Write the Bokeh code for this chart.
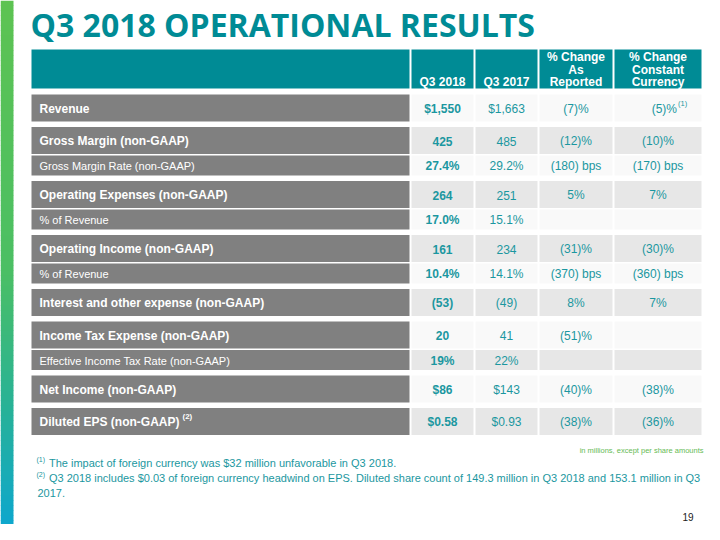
from bokeh.plotting import figure
from bokeh.models import Range1d
from bokeh.core.properties import value
from bokeh.embed import file_html
from bokeh.resources import INLINE

# ---------------- data ----------------
title_text = "Q3 2018 OPERATIONAL RESULTS"
col_headers = [["Q3 2018"], ["Q3 2017"], ["% Change", "As", "Reported"], ["% Change", "Constant", "Currency"]]
row_labels = [
    "Revenue",
    "Gross Margin (non-GAAP)",
    "Gross Margin Rate (non-GAAP)",
    "Operating Expenses (non-GAAP)",
    "% of Revenue",
    "Operating Income (non-GAAP)",
    "% of Revenue",
    "Interest and other expense (non-GAAP)",
    "Income Tax Expense (non-GAAP)",
    "Effective Income Tax Rate (non-GAAP)",
    "Net Income (non-GAAP)",
    "Diluted EPS (non-GAAP)",
]
row_label_notes = ["", "", "", "", "", "", "", "", "", "", "", "(2)"]
row_kind = ["main", "main", "sub", "main", "sub", "main", "sub", "main", "main", "sub", "main", "main"]
q3_2018 = ["$1,550", "425", "27.4%", "264", "17.0%", "161", "10.4%", "(53)", "20", "19%", "$86", "$0.58"]
q3_2017 = ["$1,663", "485", "29.2%", "251", "15.1%", "234", "14.1%", "(49)", "41", "22%", "$143", "$0.93"]
chg_reported = ["(7)%", "(12)%", "(180) bps", "5%", "", "(31)%", "(370) bps", "8%", "(51)%", "", "(40)%", "(38)%"]
chg_constant = ["(5)%", "(10)%", "(170) bps", "7%", "", "(30)%", "(360) bps", "7%", "", "", "(38)%", "(36)%"]
chg_constant_notes = ["(1)", "", "", "", "", "", "", "", "", "", "", ""]
unit_note = "in millions, except per share amounts"
footnote_marks = ["(1)", "(2)"]
footnote_lines = [
    "The impact of foreign currency was $32 million unfavorable in Q3 2018.",
    "Q3 2018 includes $0.03 of foreign currency headwind on EPS. Diluted share count of 149.3 million in Q3 2018 and 153.1 million in Q3",
    "2017.",
]
page_number = "19"

# ---------------- styles / layout ----------------
TEAL = "#008B95"
VAL_COLOR = "#1B97A0"
LABEL_BG = "#808080"
LIGHT_BG = "#F9F9F9"
DARK_BG = "#E7E7E7"
FONT = value("Liberation Sans")

LABEL_X0, LABEL_X1 = 31, 409
COL_X = [(411, 473), (475, 537), (539, 612), (614, 701)]
HEADER_TOP, HEADER_BOT = 49, 88
FIRST_TOP = 94
MAIN_H, SUB_H = 27, 20
GAP_MAIN, GAP_SUB = 5.5, 1.5

W, H = 704, 524
p = figure(width=W, height=H, output_backend="svg", toolbar_location=None,
           x_range=Range1d(0, W), y_range=Range1d(H, 0))
p.axis.visible = False
p.grid.visible = False
p.outline_line_color = None
p.min_border = 0
p.background_fill_color = "white"
p.border_fill_color = "white"

# left gradient bar
stops = [(0.0, (93, 195, 82)), (0.5, (75, 191, 100)), (0.75, (40, 178, 150)), (1.0, (10, 165, 212))]
def grad(t):
    for (t0, c0), (t1, c1) in zip(stops[:-1], stops[1:]):
        if t0 <= t <= t1:
            f = (t - t0) / (t1 - t0)
            return "#%02x%02x%02x" % tuple(int(round(a + (b - a) * f)) for a, b in zip(c0, c1))
    return "#%02x%02x%02x" % stops[-1][1]
n = 108
ys = [540 * i / n for i in range(n + 1)]
p.quad(left=[0] * n, right=[13] * n, top=ys[:-1], bottom=[y + 0.6 for y in ys[1:]],
       fill_color=[grad((ys[i] + ys[i + 1]) / 2 / 540) for i in range(n)], line_color=None)

# title
p.text(x=[30], y=[24], text=[title_text], text_font=value("Open Sans"), text_font_style="bold",
       text_font_size="32px", text_color=TEAL, text_baseline="middle", text_align="left")

# header
p.quad(left=[LABEL_X0] + [c[0] for c in COL_X], right=[LABEL_X1] + [c[1] for c in COL_X],
       top=[HEADER_TOP] * 5, bottom=[HEADER_BOT] * 5, fill_color=TEAL, line_color=None)
line_ys = [56.7, 69.2, 81.5]
for (x0, x1), lines in zip(COL_X, col_headers):
    off = 3 - len(lines)
    for k, ln in enumerate(lines):
        p.text(x=[(x0 + x1) / 2], y=[line_ys[k + off]], text=[ln], text_font=FONT, text_font_style="bold",
               text_font_size="12px", text_color="white", text_align="center", text_baseline="middle")

# rows
tops, bots = [], []
y = FIRST_TOP
for i, kind in enumerate(row_kind):
    if i > 0:
        y += GAP_MAIN if kind == "main" else GAP_SUB
    h = MAIN_H if kind == "main" else SUB_H
    tops.append(y)
    bots.append(y + h)
    y += h
mids = [(a + b) / 2 for a, b in zip(tops, bots)]

p.quad(left=[LABEL_X0] * len(tops), right=[LABEL_X1] * len(tops), top=tops, bottom=bots,
       fill_color=LABEL_BG, line_color=None)
for ci, (x0, x1) in enumerate(COL_X):
    p.quad(left=[x0] * len(tops), right=[x1] * len(tops), top=tops, bottom=bots,
           fill_color=[LIGHT_BG if i % 2 == 0 else DARK_BG for i in range(len(tops))], line_color=None)

for i, lab in enumerate(row_labels):
    main = row_kind[i] == "main"
    p.text(x=[39], y=[mids[i] + 0.5], text=[lab], text_font=FONT,
           text_font_style="bold" if main else "normal",
           text_font_size="12px" if main else "11px", text_color="white",
           text_align="left", text_baseline="middle")
    if row_label_notes[i]:
        p.text(x=[182], y=[mids[i] - 5], text=[row_label_notes[i]], text_font=FONT, text_font_style="bold",
               text_font_size="8px", text_color="white", text_align="left", text_baseline="middle")

cols = [q3_2018, q3_2017, chg_reported, chg_constant]
for ci, vals in enumerate(cols):
    x0, x1 = COL_X[ci]
    cx = (x0 + x1) / 2
    for i, v in enumerate(vals):
        if not v:
            continue
        note = chg_constant_notes[i] if ci == 3 else ""
        if note:
            p.text(x=[cx + 19], y=[mids[i] + 0.5], text=[v], text_font=FONT, text_font_size="12px",
                   text_color=VAL_COLOR, text_align="right", text_baseline="middle")
            p.text(x=[cx + 20], y=[mids[i] - 4.5], text=[note], text_font=FONT, text_font_size="7.5px",
                   text_color=VAL_COLOR, text_align="left", text_baseline="middle")
        else:
            p.text(x=[cx], y=[mids[i] + 0.5], text=[v], text_font=FONT,
                   text_font_style="bold" if ci == 0 else "normal", text_font_size="12px",
                   text_color=VAL_COLOR, text_align="center", text_baseline="middle")

# notes
p.text(x=[703], y=[449.5], text=[unit_note], text_font=FONT, text_font_size="7.5px",
       text_color="#66BB55", text_align="right", text_baseline="middle")
p.text(x=[36, 36], y=[458.5, 474], text=footnote_marks, text_font=FONT, text_font_size="7px",
       text_color=VAL_COLOR, text_align="left", text_baseline="middle")
p.text(x=[48.5, 48.5, 37], y=[462, 477, 492], text=footnote_lines, text_font=FONT, text_font_size="11px",
       text_color=VAL_COLOR, text_align="left", text_baseline="middle")
p.text(x=[693], y=[516], text=[page_number], text_font=FONT, text_font_size="10px",
       text_color="#222222", text_align="right", text_baseline="middle")

open("out.html", "w").write(file_html(p, INLINE))
